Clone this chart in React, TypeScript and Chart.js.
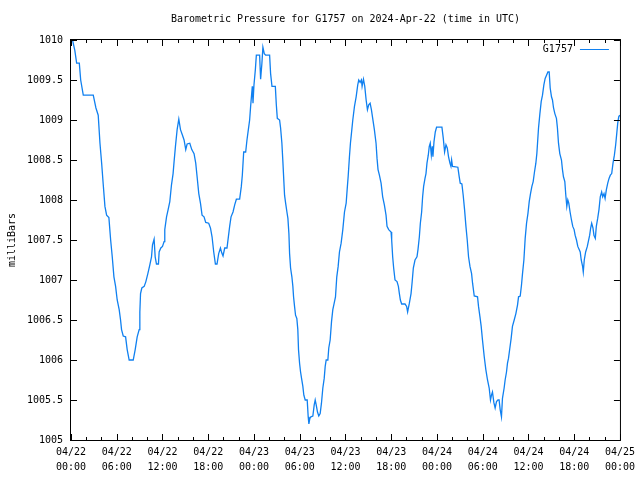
import React, { useEffect, useRef } from "react";
import { Chart, registerables } from "chart.js";

Chart.register(...registerables);

const TITLE = "Barometric Pressure for G1757 on 2024-Apr-22 (time in UTC)";
const Y_TITLE = "milliBars";
const SERIES_NAME = "G1757";
const LINE_COLOR = "#1080f0";
const FONT = "'DejaVu Sans Mono', monospace";

const xTickLabels: string[][] = [
  ["04/22", "00:00"], ["04/22", "06:00"], ["04/22", "12:00"], ["04/22", "18:00"],
  ["04/23", "00:00"], ["04/23", "06:00"], ["04/23", "12:00"], ["04/23", "18:00"],
  ["04/24", "00:00"], ["04/24", "06:00"], ["04/24", "12:00"], ["04/24", "18:00"],
  ["04/25", "00:00"],
];
const yTickLabels = ["1005", "1005.5", "1006", "1006.5", "1007", "1007.5", "1008", "1008.5", "1009", "1009.5", "1010"];

// hours since 04/22 00:00 UTC
const hours = [
  0.0, 0.2, 0.5, 0.74, 1.09, 1.27, 1.61, 2.92, 3.27, 3.57, 3.8, 4.02, 4.23, 4.45, 4.67, 4.97, 5.2, 5.41, 5.63, 5.85,
  6.06, 6.32, 6.5, 6.63, 6.85, 7.16, 7.37, 7.63, 8.16, 8.42, 8.68, 8.94, 9.03, 9.12, 9.29, 9.6, 9.82, 10.08, 10.34, 10.56,
  10.69, 10.9, 11.04, 11.21, 11.47, 11.56, 11.78, 12.0, 12.21, 12.3, 12.53, 12.74, 12.96, 13.18, 13.39, 13.52, 13.7, 13.92, 14.14, 14.36,
  14.62, 14.83, 15.05, 15.23, 15.58, 15.84, 16.14, 16.36, 16.54, 16.76, 16.98, 17.19, 17.45, 17.67, 18.06, 18.29, 18.5, 18.72, 18.94, 19.15,
  19.37, 19.6, 19.77, 19.94, 20.16, 20.46, 20.64, 20.81, 20.99, 21.25, 21.47, 21.69, 22.12, 22.34, 22.47, 22.65, 22.91, 23.08, 23.26, 23.43,
  23.56, 23.7, 23.78, 23.87, 24.0, 24.18, 24.31, 24.74, 24.87, 25.04, 25.17, 25.35, 25.53, 26.05, 26.18, 26.36, 26.8, 26.93, 27.06, 27.36,
  27.49, 27.66, 27.79, 27.92, 28.01, 28.15, 28.32, 28.45, 28.58, 28.67, 28.8, 28.97, 29.1, 29.19, 29.32, 29.45, 29.62, 29.75, 29.84, 29.98,
  30.11, 30.24, 30.41, 30.54, 30.72, 30.98, 31.11, 31.2, 31.33, 31.46, 31.72, 31.9, 32.03, 32.16, 32.33, 32.5, 32.68, 32.85, 33.03, 33.21,
  33.34, 33.47, 33.69, 33.81, 33.99, 34.17, 34.34, 34.52, 34.69, 34.86, 35.04, 35.21, 35.43, 35.65, 35.87, 36.09, 36.22, 36.35, 36.52, 36.65,
  36.78, 36.96, 37.18, 37.4, 37.61, 37.74, 37.92, 38.09, 38.18, 38.36, 38.53, 38.71, 38.88, 39.05, 39.23, 39.4, 39.57, 39.79, 40.01, 40.14,
  40.27, 40.45, 40.67, 40.88, 41.1, 41.32, 41.45, 41.67, 41.98, 42.06, 42.19, 42.32, 42.5, 42.76, 42.94, 43.07, 43.2, 43.37, 43.81, 44.02,
  44.15, 44.38, 44.6, 44.73, 44.9, 45.12, 45.38, 45.51, 45.69, 45.82, 45.99, 46.12, 46.25, 46.43, 46.56, 46.69, 46.86, 46.99, 47.12, 47.26,
  47.39, 47.47, 47.61, 47.78, 47.95, 48.65, 48.83, 49.0, 49.18, 49.35, 49.52, 49.7, 49.83, 49.92, 50.04, 50.74, 50.92, 51.05, 51.27, 51.44,
  51.62, 51.8, 51.97, 52.14, 52.33, 52.54, 52.67, 52.89, 53.32, 53.45, 53.64, 53.8, 53.97, 54.2, 54.41, 54.63, 54.85, 55.02, 55.15, 55.28,
  55.46, 55.63, 55.81, 56.0, 56.15, 56.29, 56.46, 56.59, 56.81, 56.94, 57.12, 57.25, 57.38, 57.56, 57.73, 57.9, 58.13, 58.35, 58.57, 58.7,
  58.92, 59.09, 59.22, 59.4, 59.57, 59.75, 59.93, 60.1, 60.27, 60.45, 60.62, 60.79, 60.97, 61.1, 61.19, 61.32, 61.5, 61.67, 61.84, 62.02,
  62.19, 62.37, 62.55, 62.72, 62.85, 63.02, 63.15, 63.29, 63.46, 63.67, 63.8, 63.94, 64.11, 64.33, 64.46, 64.59, 64.77, 64.9, 65.03, 65.16,
  65.29, 65.46, 65.64, 65.81, 65.99, 66.12, 66.3, 66.47, 66.65, 66.79, 66.92, 67.1, 67.19, 67.32, 67.5, 67.72, 67.85, 68.03, 68.16, 68.29,
  68.46, 68.59, 68.77, 68.9, 69.08, 69.25, 69.42, 69.6, 69.74, 69.91, 70.05, 70.22, 70.4, 70.57, 70.74, 70.92, 71.09, 71.27, 71.44, 71.58,
  71.71, 71.84, 71.97,
];

const mbar = [
  1010.0, 1010.0, 1009.87, 1009.71, 1009.71, 1009.5, 1009.31, 1009.31, 1009.15, 1009.06, 1008.71, 1008.46, 1008.19, 1007.92, 1007.81, 1007.78, 1007.5, 1007.29, 1007.04, 1006.92,
  1006.75, 1006.63, 1006.5, 1006.38, 1006.3, 1006.29, 1006.13, 1006.0, 1006.0, 1006.13, 1006.29, 1006.38, 1006.6, 1006.83, 1006.9, 1006.92, 1006.98, 1007.08, 1007.19, 1007.29,
  1007.44, 1007.51, 1007.29, 1007.2, 1007.2, 1007.35, 1007.4, 1007.42, 1007.48, 1007.63, 1007.79, 1007.88, 1007.98, 1008.19, 1008.33, 1008.48, 1008.67, 1008.88, 1009.01, 1008.88,
  1008.81, 1008.75, 1008.63, 1008.7, 1008.71, 1008.63, 1008.58, 1008.46, 1008.29, 1008.08, 1007.96, 1007.81, 1007.79, 1007.72, 1007.71, 1007.65, 1007.54, 1007.35, 1007.2, 1007.2,
  1007.33, 1007.4, 1007.34, 1007.3, 1007.4, 1007.4, 1007.54, 1007.67, 1007.79, 1007.85, 1007.94, 1008.01, 1008.01, 1008.17, 1008.31, 1008.6, 1008.6, 1008.75, 1008.88, 1009.0,
  1009.17, 1009.33, 1009.42, 1009.21, 1009.44, 1009.63, 1009.81, 1009.81, 1009.51, 1009.71, 1009.91, 1009.83, 1009.81, 1009.81, 1009.58, 1009.42, 1009.42, 1009.19, 1009.02, 1009.0,
  1008.9, 1008.71, 1008.48, 1008.23, 1008.06, 1007.96, 1007.85, 1007.77, 1007.58, 1007.33, 1007.15, 1007.04, 1006.92, 1006.79, 1006.67, 1006.56, 1006.52, 1006.38, 1006.13, 1005.96,
  1005.85, 1005.77, 1005.67, 1005.56, 1005.5, 1005.5, 1005.29, 1005.2, 1005.27, 1005.29, 1005.3, 1005.44, 1005.5, 1005.44, 1005.35, 1005.3, 1005.33, 1005.46, 1005.65, 1005.77,
  1005.92, 1006.0, 1006.0, 1006.15, 1006.25, 1006.48, 1006.63, 1006.71, 1006.79, 1007.04, 1007.17, 1007.35, 1007.46, 1007.63, 1007.85, 1007.96, 1008.13, 1008.29, 1008.54, 1008.71,
  1008.83, 1009.0, 1009.17, 1009.29, 1009.44, 1009.5, 1009.47, 1009.5, 1009.42, 1009.51, 1009.42, 1009.25, 1009.13, 1009.19, 1009.21, 1009.13, 1009.02, 1008.88, 1008.71, 1008.52,
  1008.38, 1008.31, 1008.21, 1008.04, 1007.94, 1007.81, 1007.67, 1007.63, 1007.6, 1007.5, 1007.29, 1007.15, 1007.0, 1006.98, 1006.92, 1006.83, 1006.75, 1006.7, 1006.7, 1006.67,
  1006.6, 1006.71, 1006.83, 1006.96, 1007.15, 1007.25, 1007.29, 1007.38, 1007.54, 1007.71, 1007.85, 1008.04, 1008.17, 1008.27, 1008.33, 1008.46, 1008.56, 1008.67, 1008.71, 1008.56,
  1008.67, 1008.54, 1008.73, 1008.85, 1008.91, 1008.91, 1008.77, 1008.6, 1008.69, 1008.65, 1008.54, 1008.46, 1008.42, 1008.5, 1008.42, 1008.41, 1008.29, 1008.21, 1008.2, 1008.06,
  1007.88, 1007.67, 1007.5, 1007.29, 1007.17, 1007.08, 1006.96, 1006.8, 1006.79, 1006.67, 1006.54, 1006.42, 1006.25, 1006.04, 1005.88, 1005.75, 1005.65, 1005.5, 1005.56, 1005.6,
  1005.47, 1005.4, 1005.48, 1005.5, 1005.5, 1005.38, 1005.29, 1005.52, 1005.65, 1005.75, 1005.85, 1005.96, 1006.02, 1006.15, 1006.27, 1006.42, 1006.5, 1006.58, 1006.69, 1006.79,
  1006.8, 1006.94, 1007.08, 1007.25, 1007.52, 1007.71, 1007.83, 1007.98, 1008.08, 1008.17, 1008.23, 1008.35, 1008.46, 1008.58, 1008.71, 1008.9, 1009.08, 1009.23, 1009.31, 1009.44,
  1009.52, 1009.56, 1009.6, 1009.6, 1009.4, 1009.29, 1009.25, 1009.15, 1009.08, 1009.02, 1008.9, 1008.71, 1008.58, 1008.5, 1008.38, 1008.29, 1008.23, 1008.06, 1007.92, 1008.0,
  1007.96, 1007.85, 1007.75, 1007.67, 1007.63, 1007.56, 1007.5, 1007.42, 1007.38, 1007.35, 1007.25, 1007.17, 1007.1, 1007.25, 1007.35, 1007.42, 1007.48, 1007.56, 1007.65, 1007.71,
  1007.65, 1007.56, 1007.52, 1007.67, 1007.77, 1007.88, 1008.04, 1008.1, 1008.04, 1008.08, 1008.02, 1008.13, 1008.21, 1008.27, 1008.31, 1008.33, 1008.46, 1008.56, 1008.69, 1008.83,
  1008.96, 1009.04, 1009.06,
];

const framePlugin = {
  id: "gnuplotFrame",
  afterDraw(chart: any) {
    const { ctx, chartArea } = chart;
    const { left, right, top, bottom } = chartArea;
    const xs = chart.scales.x;
    const ys = chart.scales.y;
    ctx.save();
    ctx.strokeStyle = "#000";
    ctx.lineWidth = 1;
    ctx.strokeRect(left - 0.5, top - 0.5, right - left + 1, bottom - top + 1);
    ctx.beginPath();
    for (let h = 0; h <= 72; h += 2) {
      const px = Math.round(xs.getPixelForValue(h)) + 0.5;
      const len = h % 6 === 0 ? 6 : 3;
      ctx.moveTo(px, bottom);
      ctx.lineTo(px, bottom - len);
      ctx.moveTo(px, top);
      ctx.lineTo(px, top + len);
    }
    ys.ticks.forEach((t: any) => {
      const py = Math.round(ys.getPixelForValue(t.value)) + 0.5;
      ctx.moveTo(left, py);
      ctx.lineTo(left + 6, py);
      ctx.moveTo(right, py);
      ctx.lineTo(right - 6, py);
    });
    ctx.stroke();

    ctx.fillStyle = "#000";
    ctx.font = `10px ${FONT}`;
    ctx.textBaseline = "middle";
    // title
    ctx.textAlign = "center";
    ctx.fillText(TITLE, (left + right) / 2, 19);
    // legend
    ctx.textAlign = "right";
    ctx.fillText(SERIES_NAME, right - 47, top + 9);
    ctx.strokeStyle = LINE_COLOR;
    ctx.beginPath();
    ctx.moveTo(right - 40, top + 9.5);
    ctx.lineTo(right - 11, top + 9.5);
    ctx.stroke();
    // y title
    ctx.translate(12, (top + bottom) / 2);
    ctx.rotate(-Math.PI / 2);
    ctx.textAlign = "center";
    ctx.fillText(Y_TITLE, 0, 0);
    ctx.restore();
  },
};

export default function App() {
  const ref = useRef<HTMLCanvasElement | null>(null);
  useEffect(() => {
    if (!ref.current) return;
    const points = hours.map((h, i) => ({ x: h, y: mbar[i] }));
    const chart = new Chart(ref.current, {
      type: "line",
      data: {
        datasets: [
          {
            label: SERIES_NAME,
            data: points,
            borderColor: LINE_COLOR,
            backgroundColor: LINE_COLOR,
            borderWidth: 1.3,
            pointRadius: 0,
            tension: 0,
            fill: false,
          },
        ],
      },
      options: {
        responsive: false,
        animation: false,
        events: [],
        layout: { padding: { left: 0, right: 19, top: 40, bottom: 0 } },
        plugins: {
          legend: { display: false },
          title: { display: false },
          tooltip: { enabled: false },
        },
        scales: {
          x: {
            type: "linear",
            min: 0,
            max: 72,
            grid: { display: false, drawTicks: false },
            border: { display: false },
            ticks: {
              stepSize: 6,
              autoSkip: false,
              maxRotation: 0,
              padding: 5,
              color: "#000",
              font: { family: FONT, size: 10, lineHeight: 1.5 },
              callback: (_v: any, i: number) => xTickLabels[i],
            },
            afterFit: (s: any) => {
              s.height = 40;
            },
          },
          y: {
            type: "linear",
            min: 1005,
            max: 1010,
            grid: { display: false, drawTicks: false },
            border: { display: false },
            ticks: {
              stepSize: 0.5,
              autoSkip: false,
              padding: 8,
              color: "#000",
              font: { family: FONT, size: 10 },
              callback: (_v: any, i: number) => yTickLabels[i],
            },
            afterFit: (s: any) => {
              s.width = 71;
            },
          },
        },
      },
      plugins: [framePlugin],
    });
    return () => chart.destroy();
  }, []);
  return (
    <canvas
      ref={ref}
      width={640}
      height={480}
      style={{ position: "fixed", left: 0, top: 0, width: 640, height: 480, background: "#fff" }}
    />
  );
}
